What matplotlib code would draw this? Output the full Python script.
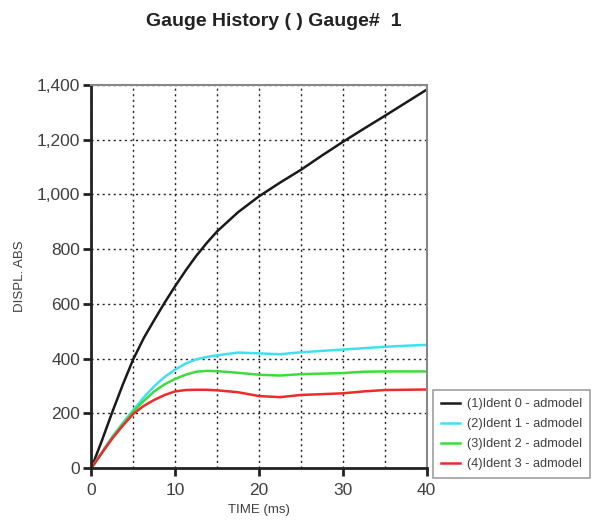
import numpy as np
import matplotlib.pyplot as plt
from matplotlib.ticker import MultipleLocator, FuncFormatter

plt.rcParams['font.family'] = ['Liberation Sans', 'DejaVu Sans']

# Datos
t = [0, 1.25, 2.5, 3.75, 5, 6.25, 7.5, 8.75, 10, 11.25, 12.5, 13.75, 15,
     17.5, 20, 22.5, 25, 27.5, 30, 32.5, 35, 37.5, 40]
ident0 = [0, 100, 205, 305, 398, 475, 541, 605, 665, 722, 775, 822, 865,
          935, 993, 1043, 1090, 1142, 1192, 1240, 1287, 1335, 1383]
ident1 = [0, 58, 115, 165, 212, 258, 299, 333, 360, 382, 397, 406, 412,
          422, 419, 416, 423, 428, 433, 438, 443, 447, 450]
ident2 = [0, 55, 112, 160, 206, 245, 280, 306, 326, 341, 352, 355, 354,
          348, 341, 338, 343, 345, 347, 352, 353, 353, 353]
ident3 = [0, 55, 108, 155, 198, 227, 249, 267, 280, 285, 286, 286, 284,
          277, 263, 259, 267, 270, 273, 280, 285, 286, 287]

series = [ident0, ident1, ident2, ident3]
labels = ['(1)Ident 0 - admodel', '(2)Ident 1 - admodel',
          '(3)Ident 2 - admodel', '(4)Ident 3 - admodel']
colors = ['#1a1a1a', '#3fe0f2', '#3ddc3d', '#ee2a2a']

fig = plt.figure(figsize=(5.95, 5.29), dpi=100)
ax = fig.add_axes([0.1536, 0.1153, 0.5634, 0.724])

for y, lab, c in zip(series, labels, colors):
    ax.plot(t, y, color=c, lw=1.8, label=lab)

ax.set_xlim(0, 40)
ax.set_ylim(0, 1400)
ax.xaxis.set_major_locator(MultipleLocator(10))
ax.xaxis.set_minor_locator(MultipleLocator(5))
ax.yaxis.set_major_locator(MultipleLocator(200))
ax.yaxis.set_major_formatter(FuncFormatter(lambda v, p: f'{int(v):,}'))

ax.grid(True, which='both', ls=(0, (1.5, 2.5)), color='#222222', lw=1)
ax.tick_params(which='major', direction='out', length=6, width=2,
               labelsize=12.5, labelcolor='#404040', color='#222222', pad=2)
ax.tick_params(axis='x', pad=5)
ax.tick_params(which='minor', length=0)

for s in ['left', 'bottom']:
    ax.spines[s].set_linewidth(2)
    ax.spines[s].set_color('#222222')
for s in ['top', 'right']:
    ax.spines[s].set_linewidth(1.5)
    ax.spines[s].set_color('#888888')

ax.set_xlabel('TIME (ms)', fontsize=9.5, color='#404040', labelpad=4)
ax.set_ylabel('DISPL. ABS', fontsize=9.5, color='#404040', labelpad=8)

fig.text(0.46, 0.96, 'Gauge History ( ) Gauge#  1', ha='center', va='center',
         fontsize=14, fontweight='bold', color='#222222')

leg = fig.legend(loc='upper left', bbox_to_anchor=(0.7277, 0.2628), fontsize=9.2,
                 frameon=True, fancybox=False, edgecolor='#888888',
                 handlelength=1.5, handletextpad=0.5, labelspacing=0.62,
                 borderpad=0.65, borderaxespad=0)
leg.get_frame().set_linewidth(1.2)
for txt in leg.get_texts():
    txt.set_color('#404040')

fig.savefig('out.png', dpi=100)
